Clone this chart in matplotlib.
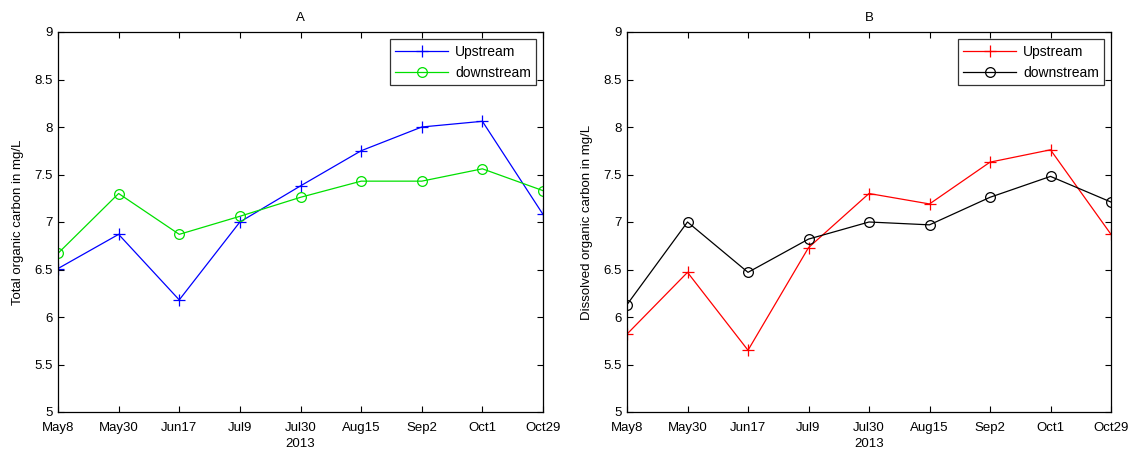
import matplotlib
matplotlib.use('Agg')
import matplotlib.pyplot as plt

plt.rcParams['font.family'] = ['Liberation Sans', 'DejaVu Sans']
plt.rcParams['font.size'] = 9.5

# dates de prelevement (2013)
dates = ['May8', 'May30', 'Jun17', 'Jul9', 'Jul30', 'Aug15', 'Sep2', 'Oct1', 'Oct29']

# carbone organique total (A)
toc_up = [6.51, 6.87, 6.18, 7.00, 7.38, 7.75, 8.00, 8.06, 7.08]
toc_down = [6.67, 7.30, 6.87, 7.06, 7.26, 7.43, 7.43, 7.56, 7.33]

# carbone organique dissous (B)
doc_up = [5.82, 6.47, 5.65, 6.73, 7.30, 7.19, 7.63, 7.76, 6.87]
doc_down = [6.13, 7.00, 6.47, 6.82, 7.00, 6.97, 7.26, 7.48, 7.21]

W, H = 1133, 454
fig = plt.figure(figsize=(W / 100, H / 100), dpi=100)

def panel(rect, up, down, c_up, c_down, title, ylabel):
    ax = fig.add_axes(rect)
    x = range(len(dates))
    ax.plot(x, up, color=c_up, marker='+', markersize=9, lw=0.9, mew=0.9, label='Upstream')
    ax.plot(x, down, color=c_down, marker='o', markersize=7, mfc='none', lw=0.9, mew=0.9, label='downstream')
    ax.set_xlim(0, len(dates) - 1)
    ax.set_ylim(5, 9)
    ax.set_xticks(list(x))
    ax.set_xticklabels(dates)
    ax.set_yticks([5, 5.5, 6, 6.5, 7, 7.5, 8, 8.5, 9])
    ax.set_yticklabels(['5', '5.5', '6', '6.5', '7', '7.5', '8', '8.5', '9'])
    ax.tick_params(direction='in', top=True, right=True, length=4, width=0.8)
    ax.tick_params(axis='x', pad=7)
    ax.tick_params(axis='y', pad=4)
    for s in ax.spines.values():
        s.set_linewidth(0.9)
    ax.set_title(title, fontsize=9.5, pad=8)
    ax.set_xlabel('2013', labelpad=3)
    ax.set_ylabel(ylabel, labelpad=7)
    leg = ax.legend(loc='upper right', bbox_to_anchor=(0.995, 0.992), fancybox=False,
                    edgecolor='black', handlelength=3.8, borderpad=0.4, labelspacing=0.5,
                    handletextpad=0.5, borderaxespad=0.3, fontsize=10)
    leg.get_frame().set_linewidth(0.9)
    return ax

ax1 = panel([58 / W, 1 - 412 / H, (543 - 58) / W, (412 - 32) / H],
            toc_up, toc_down, 'blue', '#00e000', 'A', 'Total organic carbon in mg/L')
ax2 = panel([627 / W, 1 - 412 / H, (1111 - 627) / W, (412 - 32) / H],
            doc_up, doc_down, 'red', 'black', 'B', 'Dissolved organic carbon in mg/L')

fig.savefig('out.png', dpi=100)
